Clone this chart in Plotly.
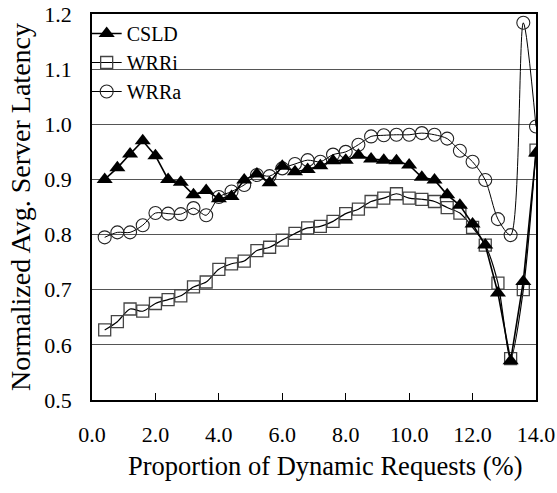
import plotly.graph_objects as go

x_vals = [0.4, 0.8, 1.2, 1.6, 2.0, 2.4, 2.8, 3.2, 3.6, 4.0, 4.4, 4.8, 5.2, 5.6,
          6.0, 6.4, 6.8, 7.2, 7.6, 8.0, 8.4, 8.8, 9.2, 9.6, 10.0, 10.4, 10.8,
          11.2, 11.6, 12.0, 12.4, 12.8, 13.2, 13.6, 14.0]

csld = [0.900, 0.921, 0.946, 0.970, 0.943, 0.900, 0.895, 0.872, 0.880, 0.865,
        0.869, 0.899, 0.910, 0.894, 0.924, 0.914, 0.918, 0.925, 0.934, 0.935,
        0.944, 0.937, 0.935, 0.934, 0.926, 0.904, 0.899, 0.872, 0.853, 0.819,
        0.781, 0.694, 0.571, 0.715, 0.948]

wrri = [0.627, 0.642, 0.665, 0.661, 0.675, 0.682, 0.689, 0.705, 0.714, 0.737,
        0.747, 0.752, 0.771, 0.777, 0.790, 0.802, 0.812, 0.815, 0.824, 0.838,
        0.846, 0.860, 0.866, 0.874, 0.866, 0.864, 0.860, 0.849, 0.839, 0.813,
        0.781, 0.712, 0.575, 0.700, 0.953]

wrra = [0.795, 0.804, 0.804, 0.817, 0.839, 0.838, 0.837, 0.848, 0.835, 0.868,
        0.878, 0.890, 0.908, 0.906, 0.920, 0.928, 0.935, 0.932, 0.945, 0.950,
        0.963, 0.978, 0.980, 0.981, 0.981, 0.984, 0.981, 0.974, 0.952, 0.932,
        0.899, 0.828, 0.799, 1.184, 0.996]

x_ticks = [0, 2, 4, 6, 8, 10, 12, 14]
x_tick_labels = ["0.0", "2.0", "4.0", "6.0", "8.0", "10.0", "12.0", "14.0"]
y_ticks = [0.5, 0.6, 0.7, 0.8, 0.9, 1.0, 1.1, 1.2]
y_tick_labels = ["0.5", "0.6", "0.7", "0.8", "0.9", "1.0", "1.1", "1.2"]

x_title = "Proportion of Dynamic Requests (%)"
y_title = "Normalized Avg. Server Latency"

FONT = "Liberation Serif"

fig = go.Figure()
fig.add_trace(go.Scatter(
    x=x_vals, y=wrra, name="WRRa", mode="lines+markers",
    line=dict(color="black", width=1, shape="spline", smoothing=0.8),
    marker=dict(symbol="circle-open", size=13, color="#222222",
                line=dict(width=1.1))))
fig.add_trace(go.Scatter(
    x=x_vals, y=wrri, name="WRRi", mode="lines+markers",
    line=dict(color="black", width=1.2, shape="spline", smoothing=0.8),
    marker=dict(symbol="square-open", size=12, color="#444444",
                line=dict(width=1.3))))
fig.add_trace(go.Scatter(
    x=x_vals, y=csld, name="CSLD", mode="lines+markers",
    line=dict(color="black", width=1.6),
    marker=dict(symbol="triangle-up", size=14, color="black")))

fig.update_layout(
    width=557, height=493,
    margin=dict(l=92, r=21, t=14, b=93, autoexpand=False),
    paper_bgcolor="white", plot_bgcolor="white",
    font=dict(family=FONT, color="black", size=22),
    showlegend=True,
    legend=dict(x=-0.012, y=1.0, xanchor="left", yanchor="top",
                traceorder="reversed", bgcolor="rgba(0,0,0,0)",
                font=dict(family=FONT, size=20), itemwidth=30),
    xaxis=dict(range=[0, 14], tickvals=x_ticks, ticktext=x_tick_labels,
               ticks="inside", ticklen=7, tickcolor="black", tickwidth=1.3,
               showgrid=False, zeroline=False, automargin=False,
               showline=True, linecolor="black", linewidth=1.6, mirror=True,
               tickfont=dict(family=FONT, size=22), ticklabelstandoff=14),
    yaxis=dict(range=[0.5, 1.2], tickvals=y_ticks, ticktext=y_tick_labels,
               ticks="", showgrid=True, gridcolor="#555555", gridwidth=1.3,
               zeroline=False, automargin=False,
               showline=True, linecolor="black", linewidth=1.6, mirror=True,
               tickfont=dict(family=FONT, size=22), ticklabelstandoff=14,
               title=dict(text=y_title,
                          font=dict(family=FONT, size=28), standoff=5)),
    annotations=[dict(text=x_title, xref="paper", yref="paper",
                      x=0.526, y=-0.171, xanchor="center", yanchor="middle",
                      showarrow=False, font=dict(family=FONT, size=26.5))],
)

fig.write_html("out.html")
